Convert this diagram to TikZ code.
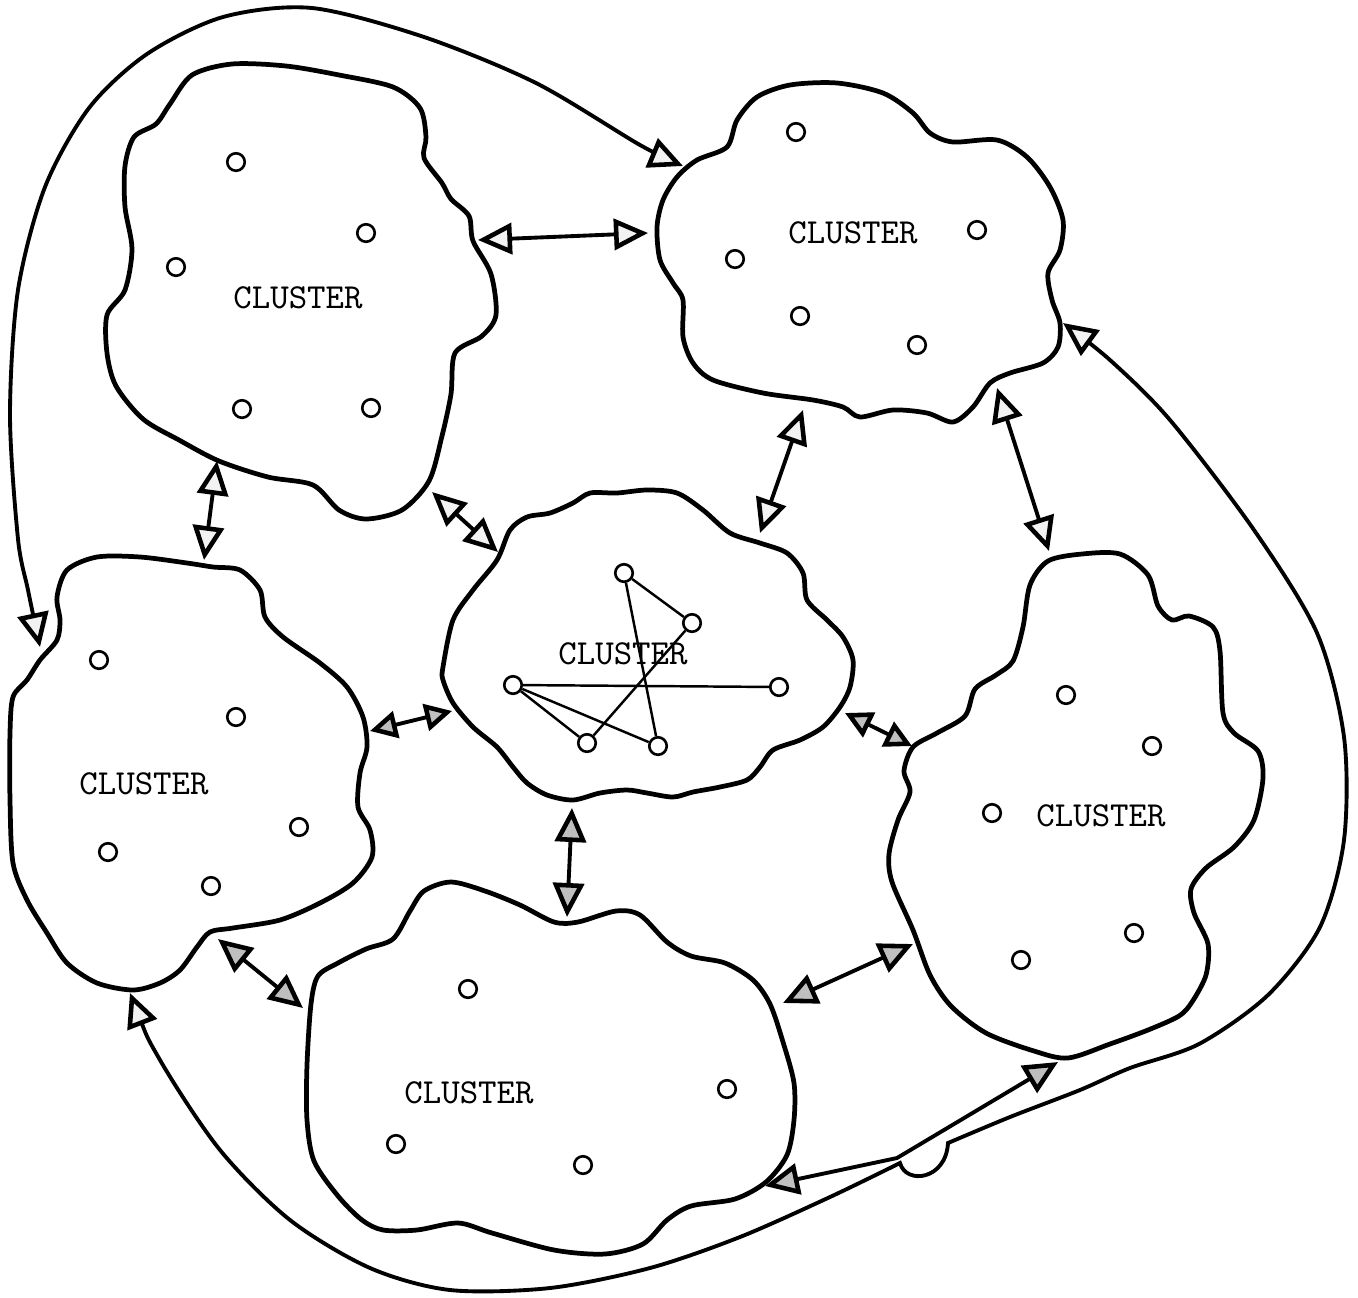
\documentclass[tikz,border=0pt]{standalone}
\usepackage{fontspec}
\usetikzlibrary{arrows.meta}

\tikzset{
  blob/.style={line width=1.35pt, line join=round},
  dot/.style={circle, draw, line width=0.75pt, minimum size=1.75mm, inner sep=0pt, fill=white},
  clabel/.style={font=\ttfamily\fontsize{10}{11}\selectfont},
  link/.style={line width=1.1pt, >={Triangle[length=3.4mm,width=3.1mm,line width=1.3pt,fill=gray!10]}},
  darklink/.style={link, >={Triangle[length=3.4mm,width=3.1mm,line width=1.3pt,fill=gray!50]}},
  shortlink/.style={link, >={Triangle[length=2.7mm,width=2.7mm,line width=1.3pt,fill=gray!50]}},
  tie/.style={line width=0.7pt},
}

\begin{document}
\begin{tikzpicture}[x=0.1mm, y=-0.1mm]
  \useasboundingbox (0,0) rectangle (1358,1297);

  % --- cluster outlines ---
  \draw[blob] plot[smooth cycle] coordinates {(125,207) (132,249) (125,290) (107,315) (107,353) (116,386) (143,419) (179,440) (219,461) (268,477) (313,485) (339,510) (366,519) (402,510) (429,481) (442,436) (451,394) (455,353) (482,336) (496,315) (491,274) (473,241) (469,216) (451,199) (442,183) (424,158) (426,137) (420,108) (393,87) (339,75) (286,66) (232,64) (192,75) (170,104) (156,124) (134,137) (125,166)};
  \draw[blob] plot[smooth cycle] coordinates {(657,227) (663,200) (677,177) (697,160) (727,147) (737,120) (757,97) (790,85) (837,83) (883,93) (913,113) (930,133) (953,142) (997,140) (1027,157) (1050,187) (1063,220) (1060,250) (1048,273) (1052,300) (1060,323) (1058,347) (1043,363) (1010,373) (990,383) (973,407) (953,422) (927,413) (893,410) (860,417) (843,407) (813,400) (763,393) (713,380) (693,363) (683,337) (683,300) (673,283) (660,260)};
  \draw[blob] plot[smooth cycle] coordinates {(443,667) (453,620) (473,590) (497,560) (510,530) (527,517) (550,513) (573,503) (590,493) (617,493) (647,490) (677,493) (703,510) (730,533) (760,543) (787,553) (803,573) (807,600) (827,620) (843,637) (853,660) (850,687) (840,707) (823,727) (800,740) (773,750) (760,767) (747,780) (720,787) (693,792) (673,797) (647,793) (627,790) (600,793) (573,800) (547,795) (527,783) (513,767) (497,747) (473,727) (453,703) (443,680)};
  \draw[blob] plot[smooth cycle] coordinates {(57,597) (67,570) (97,557) (140,557) (187,563) (213,567) (240,570) (260,590) (265,617) (283,637) (320,663) (347,687) (363,717) (367,747) (360,773) (358,807) (370,830) (372,857) (353,883) (320,903) (280,920) (233,928) (210,932) (197,947) (180,970) (160,983) (133,990) (97,983) (67,963) (47,933) (27,900) (13,863) (10,800) (10,733) (13,697) (27,680) (40,660) (57,640) (60,620)};
  \draw[blob] plot[smooth cycle] coordinates {(904,771) (913,747) (937,733) (965,716) (975,689) (996,675) (1013,661) (1023,627) (1030,585) (1048,561) (1082,554) (1120,554) (1148,575) (1158,606) (1172,620) (1189,616) (1213,627) (1220,651) (1223,713) (1234,733) (1258,751) (1263,778) (1254,820) (1234,847) (1206,868) (1191,889) (1194,913) (1208,944) (1206,975) (1192,1002) (1179,1016) (1148,1030) (1110,1044) (1068,1058) (1034,1051) (986,1033) (951,1006) (930,975) (913,930) (892,882) (889,854) (898,820) (910,792)};
  \draw[blob] plot[smooth cycle] coordinates {(311,1004) (318,976) (338,963) (366,949) (393,939) (410,911) (424,891) (451,882) (485,891) (520,905) (554,922) (578,922) (616,911) (640,915) (667,942) (691,956) (725,963) (753,980) (770,1004) (783,1042) (794,1083) (794,1120) (787,1155) (766,1182) (735,1199) (691,1206) (667,1220) (643,1244) (605,1254) (554,1250) (492,1233) (458,1223) (417,1230) (383,1230) (362,1220) (338,1196) (314,1161) (307,1120) (307,1065)};

  % --- labels ---
  \node[clabel] (lbl-tl) at (298,298) {CLUSTER};
  \node[clabel] (lbl-tr) at (853,233) {CLUSTER};
  \node[clabel] (lbl-c)  at (623,654) {CLUSTER};
  \node[clabel] (lbl-l)  at (144,784) {CLUSTER};
  \node[clabel] (lbl-r)  at (1101,816) {CLUSTER};
  \node[clabel] (lbl-b)  at (469,1093) {CLUSTER};

  % --- members ---
  \node[dot] (tl1) at (236,162) {};
  \node[dot] (tl2) at (366,233) {};
  \node[dot] (tl3) at (176,267) {};
  \node[dot] (tl4) at (242,409) {};
  \node[dot] (tl5) at (371,408) {};
  \node[dot] (tr1) at (796,132) {};
  \node[dot] (tr2) at (977,230) {};
  \node[dot] (tr3) at (735,259) {};
  \node[dot] (tr4) at (800,316) {};
  \node[dot] (tr5) at (917,345) {};
  \node[dot] (l1) at (99,660) {};
  \node[dot] (l2) at (236,717) {};
  \node[dot] (l3) at (299,827) {};
  \node[dot] (l4) at (108,852) {};
  \node[dot] (l5) at (211,886) {};
  \node[dot] (r1) at (1066,695) {};
  \node[dot] (r2) at (1152,746) {};
  \node[dot] (r3) at (992,813) {};
  \node[dot] (r4) at (1134,933) {};
  \node[dot] (r5) at (1021,960) {};
  \node[dot] (b1) at (468,989) {};
  \node[dot] (b2) at (727,1089) {};
  \node[dot] (b3) at (396,1144) {};
  \node[dot] (b4) at (583,1165) {};

  % center cluster with its ties
  \node[dot] (ca) at (624,573) {};
  \node[dot] (cb) at (692,623) {};
  \node[dot] (cc) at (513,685) {};
  \node[dot] (cd) at (779,687) {};
  \node[dot] (ce) at (587,743) {};
  \node[dot] (cf) at (658,746) {};
  \draw[tie] (ca) -- (cb);
  \draw[tie] (ca) -- (cf);
  \draw[tie] (cb) -- (ce);
  \draw[tie] (cc) -- (cd);
  \draw[tie] (cc) -- (ce);
  \draw[tie] (cc) -- (cf);

  % --- link ends ---
  \coordinate (tltr-a) at (478,240);  \coordinate (tltr-b) at (648,233);
  \coordinate (tll-a)  at (217,461);  \coordinate (tll-b)  at (204,560);
  \coordinate (tlc-a)  at (432,492);  \coordinate (tlc-b)  at (498,552);
  \coordinate (trc-a)  at (803,410);  \coordinate (trc-b)  at (760,533);
  \coordinate (trr-a)  at (997,388);  \coordinate (trr-b)  at (1049,551);
  \coordinate (lc-a)   at (370,731);  \coordinate (lc-b)   at (452,711);
  \coordinate (cr-a)   at (845,713);  \coordinate (cr-b)   at (912,746);
  \coordinate (cbt-a)  at (572,808);  \coordinate (cbt-b)  at (567,917);
  \coordinate (lb-a)   at (218,939);  \coordinate (lb-b)   at (303,1008);
  \coordinate (br-a)   at (783,1003); \coordinate (br-b)   at (913,944);
  \coordinate (br2-a)  at (765,1186); \coordinate (br2-k)  at (897,1158);
  \coordinate (br2-b)  at (1058,1062);
  \coordinate (top-a)  at (40,647);   \coordinate (top-b)  at (683,166);
  \coordinate (bot-a)  at (130,993);  \coordinate (bot-b)  at (1063,323);

  % --- links between neighbours ---
  \draw[link, <->] (tltr-a) -- (tltr-b);
  \draw[link, <->] (tll-a) -- (tll-b);
  \draw[link, <->] (tlc-a) -- (tlc-b);
  \draw[link, <->] (trc-a) -- (trc-b);
  \draw[link, <->] (trr-a) -- (trr-b);
  \draw[shortlink, <->] (lc-a) -- (lc-b);
  \draw[shortlink, <->] (cr-a) -- (cr-b);
  \draw[darklink, <->] (cbt-a) -- (cbt-b);
  \draw[darklink, <->] (lb-a) -- (lb-b);
  \draw[darklink, <->] (br-a) -- (br-b);
  \draw[darklink, <->] (br2-a) -- (br2-k) -- (br2-b);

  % --- long way round ---
  \draw[link, <->] plot[smooth] coordinates {(top-a) (28,590) (18,539) (10,415) (18,290) (45,187) (89,108) (147,54) (223,17) (312,8) (424,37) (536,83) (640,145) (top-b)};
  \draw[link, <->] plot[smooth] coordinates {(bot-a) (160,1060) (220,1150) (290,1220) (370,1268) (450,1290) (550,1288) (650,1268) (740,1237) (830,1197) (900,1163)}
    .. controls (906,1185) and (946,1180) .. (948,1143)
    -- plot[smooth] coordinates {(948,1143) (1010,1117) (1080,1090) (1130,1068) (1199,1044) (1268,995) (1320,927) (1344,840) (1344,737) (1317,633) (1254,530) (1170,420) (1110,360) (bot-b)};
\end{tikzpicture}
\end{document}
